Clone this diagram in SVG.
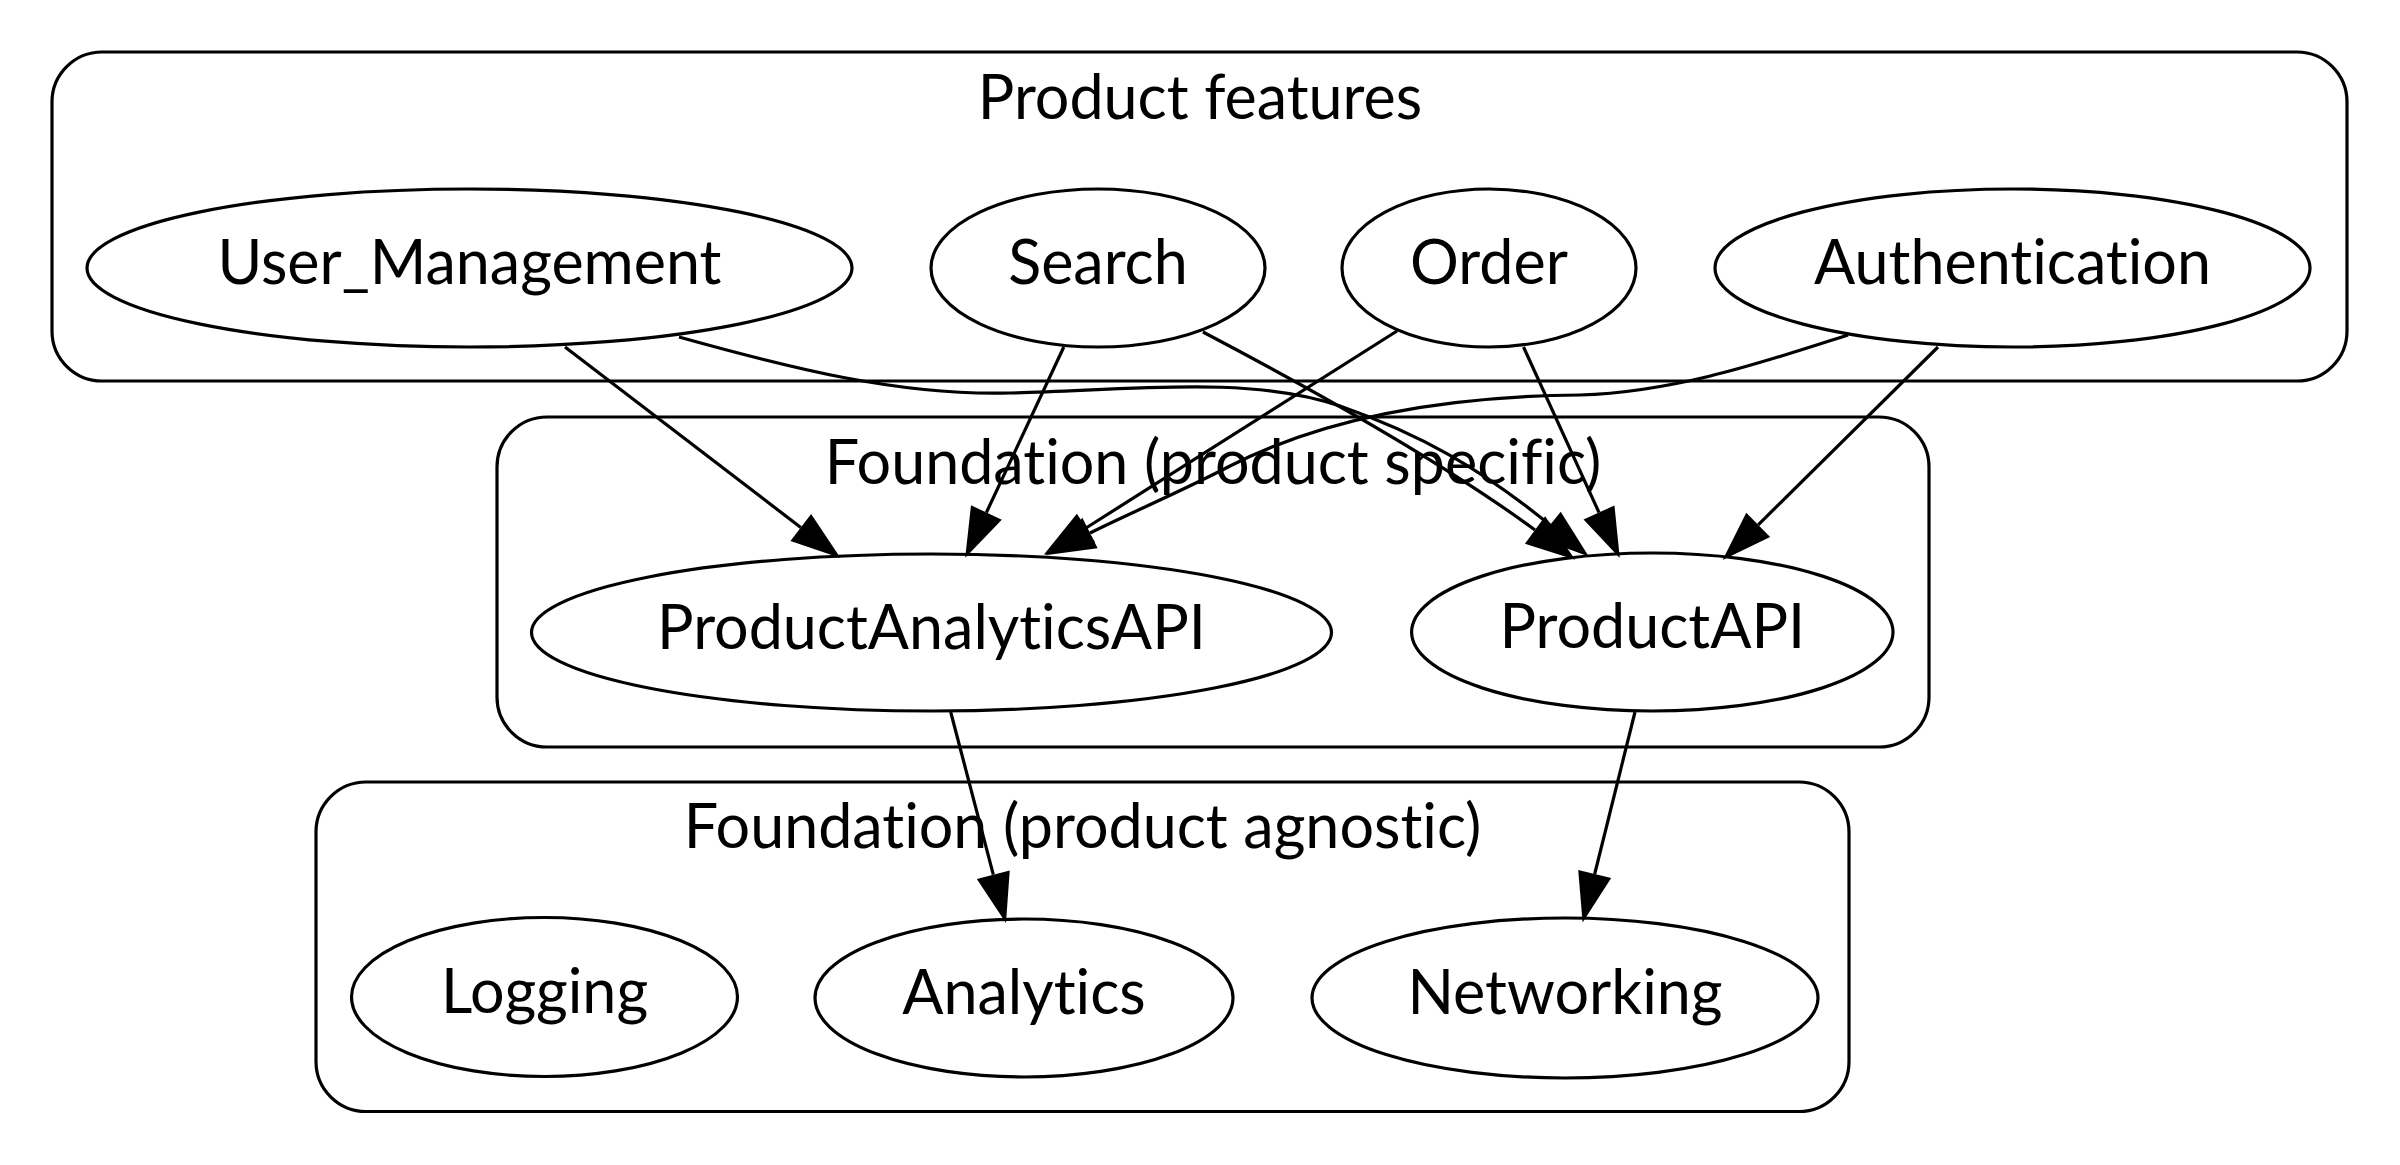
<svg xmlns="http://www.w3.org/2000/svg" width="2400" height="1165" viewBox="0 0 2400 1165">
<style>
  .cluster { fill: none; stroke: #000; stroke-width: 3.2; }
  .node ellipse { fill: none; stroke: #000; stroke-width: 3.2; }
  text { font-family: "Lato", "Liberation Sans", sans-serif; font-size: 61px; fill: #000; text-anchor: middle; font-variant-ligatures: none; font-feature-settings: "liga" 0, "clig" 0, "dlig" 0; }
  .edge { fill: none; stroke: #000; stroke-width: 3.2; marker-end: url(#arrow); }
</style>
<defs>
  <marker id="arrow" markerUnits="userSpaceOnUse" markerWidth="50" markerHeight="34" refX="0" refY="17" orient="auto" viewBox="0 0 50 34" overflow="visible">
    <path d="M0,0 L50,17 L0,34 Z" fill="#000"/>
  </marker>
</defs>
<rect width="2400" height="1165" fill="#fff"/>

<g id="cluster_features">
  <rect class="cluster" x="52" y="52" width="2295" height="329" rx="50" ry="50"/>
  <text x="1200" y="119">Product features</text>
</g>
<g id="cluster_specific">
  <rect class="cluster" x="497" y="417" width="1432" height="330" rx="50" ry="50"/>
  <text x="1213" y="483.5">Foundation (product specific)</text>
</g>
<g id="cluster_agnostic">
  <rect class="cluster" x="316" y="782" width="1533" height="329.5" rx="50" ry="50"/>
  <text x="1082.5" y="847.5">Foundation (product agnostic)</text>
</g>

<g id="User_Management" class="node">
  <ellipse cx="469.5" cy="268" rx="382.5" ry="79"/>
  <text x="469.5" y="284">User_Management</text>
</g>
<g id="Search" class="node">
  <ellipse cx="1098" cy="268" rx="167" ry="79"/>
  <text x="1098" y="284">Search</text>
</g>
<g id="Order" class="node">
  <ellipse cx="1489" cy="268" rx="147" ry="79"/>
  <text x="1489" y="284">Order</text>
</g>
<g id="Authentication" class="node">
  <ellipse cx="2012.5" cy="268" rx="297.5" ry="79"/>
  <text x="2012.5" y="284">Authentication</text>
</g>
<g id="ProductAnalyticsAPI" class="node">
  <ellipse cx="931.5" cy="632.5" rx="400" ry="78.5"/>
  <text x="931.5" y="648.5">ProductAnalyticsAPI</text>
</g>
<g id="ProductAPI" class="node">
  <ellipse cx="1652.3" cy="632" rx="240.7" ry="79"/>
  <text x="1652.3" y="648">ProductAPI</text>
</g>
<g id="Logging" class="node">
  <ellipse cx="544.5" cy="997" rx="193" ry="79.5"/>
  <text x="544.5" y="1013">Logging</text>
</g>
<g id="Analytics" class="node">
  <ellipse cx="1024" cy="998" rx="209" ry="79"/>
  <text x="1024" y="1014">Analytics</text>
</g>
<g id="Networking" class="node">
  <ellipse cx="1565" cy="998" rx="253" ry="80"/>
  <text x="1565" y="1014">Networking</text>
</g>

<g id="edges">
  <path class="edge" d="M565,347 L800.8,527.5"/>
  <path class="edge" d="M679,337 C790,368 900,396 1010,393 C1130,390 1250,375 1340,406 C1420,434 1480,468 1550,525"/>
  <path class="edge" d="M1063.8,347 L986.4,512.5"/>
  <path class="edge" d="M1203,332 C1300,383 1440,460 1535,530"/>
  <path class="edge" d="M1397,331 L1086,528"/>
  <path class="edge" d="M1523.5,347 L1599,512.5"/>
  <path class="edge" d="M1848,335 C1775,358 1680,392 1580,395 C1470,396 1340,410 1230,466 C1180,492 1130,513 1090,533"/>
  <path class="edge" d="M1938,347 L1758.2,524.8"/>
  <path class="edge" d="M950.7,712 L993.3,874.7"/>
  <path class="edge" d="M1635,712 L1594.7,874"/>
</g>
</svg>
